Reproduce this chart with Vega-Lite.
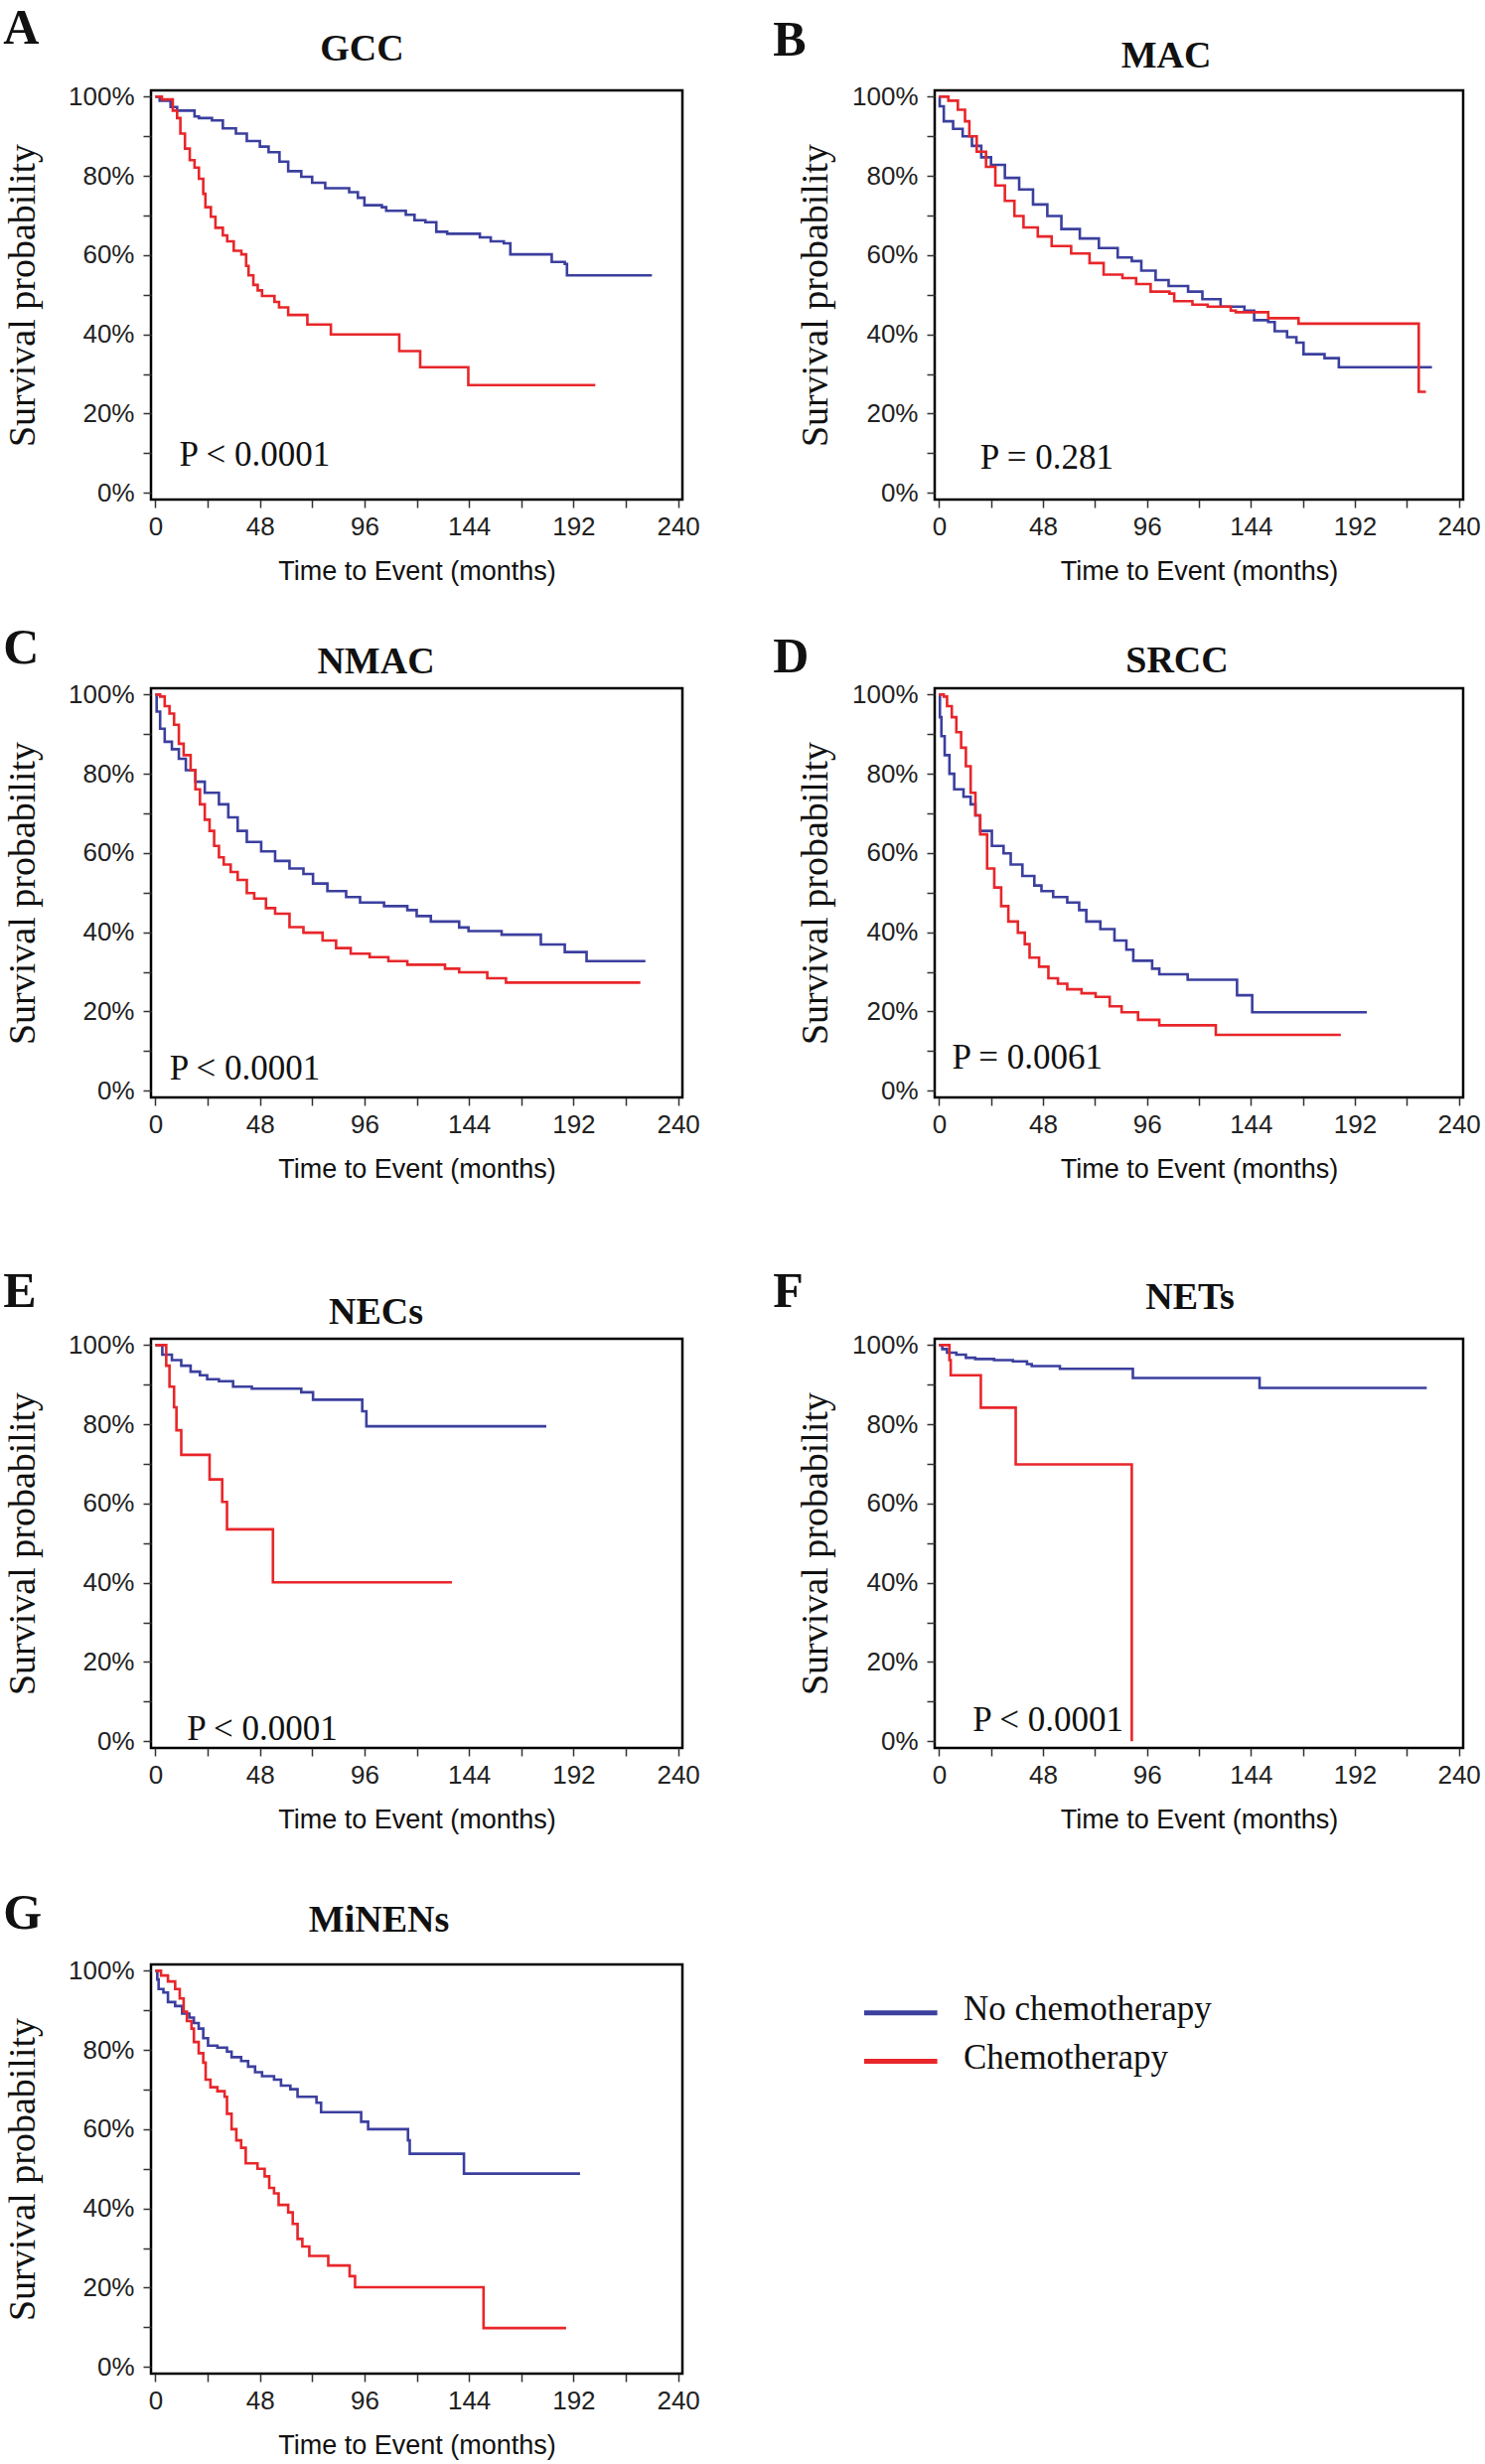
{
"$schema": "https://vega.github.io/schema/vega-lite/v6.json",
"background": "white",
"padding": {"left": 3, "top": 4, "right": 0, "bottom": 3},
"config": {
  "view": {"stroke": "#000", "strokeWidth": 2.5},
  "axis": {"domain": false, "grid": false, "tickSize": 8, "tickWidth": 1.5, "tickColor": "#333", "labelFont": "Liberation Sans", "labelFontSize": 26, "labelColor": "#222", "titleColor": "#111"},
  "axisX": {"labelPadding": 6, "titleFont": "Liberation Sans", "titleFontSize": 27, "titleFontWeight": "normal", "titlePadding": 19},
  "axisY": {"labelPadding": 9, "titleFont": "Liberation Serif", "titleFontSize": 38, "titleFontWeight": "normal", "titlePadding": 26},
  "title": {"font": "Liberation Serif", "fontSize": 38, "fontWeight": "bold", "color": "#111", "baseline": "alphabetic"}
},
"datasets": {
"pv": [
{"p":"A","label":"P < 0.0001","t":11,"s":0.095},
{"p":"B","label":"P = 0.281","t":19,"s":0.088},
{"p":"C","label":"P < 0.0001","t":6.5,"s":0.055},
{"p":"D","label":"P = 0.0061","t":6,"s":0.084},
{"p":"E","label":"P < 0.0001","t":14.5,"s":0.031},
{"p":"F","label":"P < 0.0001","t":15.6,"s":0.054}
],
"km": [
{"p":"A","g":"No chemotherapy","t":0,"s":1},{"p":"A","g":"No chemotherapy","t":2,"s":0.99},{"p":"A","g":"No chemotherapy","t":7,"s":0.974},{"p":"A","g":"No chemotherapy","t":10,"s":0.965},{"p":"A","g":"No chemotherapy","t":18,"s":0.95},{"p":"A","g":"No chemotherapy","t":20,"s":0.946},{"p":"A","g":"No chemotherapy","t":26,"s":0.94},{"p":"A","g":"No chemotherapy","t":31,"s":0.92},{"p":"A","g":"No chemotherapy","t":37,"s":0.907},{"p":"A","g":"No chemotherapy","t":42,"s":0.888},{"p":"A","g":"No chemotherapy","t":48,"s":0.874},{"p":"A","g":"No chemotherapy","t":52,"s":0.86},{"p":"A","g":"No chemotherapy","t":57,"s":0.836},{"p":"A","g":"No chemotherapy","t":61,"s":0.812},{"p":"A","g":"No chemotherapy","t":67,"s":0.798},{"p":"A","g":"No chemotherapy","t":72,"s":0.783},{"p":"A","g":"No chemotherapy","t":78,"s":0.769},{"p":"A","g":"No chemotherapy","t":89,"s":0.759},{"p":"A","g":"No chemotherapy","t":93,"s":0.745},{"p":"A","g":"No chemotherapy","t":96,"s":0.726},{"p":"A","g":"No chemotherapy","t":104,"s":0.721},{"p":"A","g":"No chemotherapy","t":106,"s":0.712},{"p":"A","g":"No chemotherapy","t":115,"s":0.702},{"p":"A","g":"No chemotherapy","t":119,"s":0.688},{"p":"A","g":"No chemotherapy","t":124,"s":0.683},{"p":"A","g":"No chemotherapy","t":129,"s":0.659},{"p":"A","g":"No chemotherapy","t":134,"s":0.654},{"p":"A","g":"No chemotherapy","t":149,"s":0.645},{"p":"A","g":"No chemotherapy","t":154,"s":0.635},{"p":"A","g":"No chemotherapy","t":160,"s":0.63},{"p":"A","g":"No chemotherapy","t":163,"s":0.602},{"p":"A","g":"No chemotherapy","t":182,"s":0.583},{"p":"A","g":"No chemotherapy","t":188,"s":0.578},{"p":"A","g":"No chemotherapy","t":189,"s":0.549},{"p":"A","g":"No chemotherapy","t":228,"s":0.549},
{"p":"A","g":"Chemotherapy","t":0,"s":1},{"p":"A","g":"Chemotherapy","t":3,"s":0.993},{"p":"A","g":"Chemotherapy","t":8,"s":0.965},{"p":"A","g":"Chemotherapy","t":10,"s":0.946},{"p":"A","g":"Chemotherapy","t":11.5,"s":0.907},{"p":"A","g":"Chemotherapy","t":13.6,"s":0.869},{"p":"A","g":"Chemotherapy","t":15.8,"s":0.84},{"p":"A","g":"Chemotherapy","t":18,"s":0.821},{"p":"A","g":"Chemotherapy","t":20,"s":0.793},{"p":"A","g":"Chemotherapy","t":22,"s":0.755},{"p":"A","g":"Chemotherapy","t":23,"s":0.721},{"p":"A","g":"Chemotherapy","t":25.5,"s":0.697},{"p":"A","g":"Chemotherapy","t":27.6,"s":0.669},{"p":"A","g":"Chemotherapy","t":31,"s":0.65},{"p":"A","g":"Chemotherapy","t":33,"s":0.635},{"p":"A","g":"Chemotherapy","t":36,"s":0.611},{"p":"A","g":"Chemotherapy","t":39.5,"s":0.602},{"p":"A","g":"Chemotherapy","t":41.7,"s":0.573},{"p":"A","g":"Chemotherapy","t":42.8,"s":0.549},{"p":"A","g":"Chemotherapy","t":45,"s":0.525},{"p":"A","g":"Chemotherapy","t":47,"s":0.511},{"p":"A","g":"Chemotherapy","t":49,"s":0.497},{"p":"A","g":"Chemotherapy","t":54.7,"s":0.482},{"p":"A","g":"Chemotherapy","t":56.8,"s":0.468},{"p":"A","g":"Chemotherapy","t":61,"s":0.449},{"p":"A","g":"Chemotherapy","t":69.8,"s":0.425},{"p":"A","g":"Chemotherapy","t":80.6,"s":0.4},{"p":"A","g":"Chemotherapy","t":112,"s":0.358},{"p":"A","g":"Chemotherapy","t":121.6,"s":0.317},{"p":"A","g":"Chemotherapy","t":143.7,"s":0.272},{"p":"A","g":"Chemotherapy","t":202,"s":0.272},
{"p":"B","g":"No chemotherapy","t":0,"s":1},{"p":"B","g":"No chemotherapy","t":0.3,"s":0.976},{"p":"B","g":"No chemotherapy","t":2.2,"s":0.938},{"p":"B","g":"No chemotherapy","t":6.5,"s":0.919},{"p":"B","g":"No chemotherapy","t":10.9,"s":0.9},{"p":"B","g":"No chemotherapy","t":15.2,"s":0.876},{"p":"B","g":"No chemotherapy","t":19.5,"s":0.847},{"p":"B","g":"No chemotherapy","t":24,"s":0.828},{"p":"B","g":"No chemotherapy","t":30.4,"s":0.795},{"p":"B","g":"No chemotherapy","t":37,"s":0.766},{"p":"B","g":"No chemotherapy","t":43.4,"s":0.728},{"p":"B","g":"No chemotherapy","t":50,"s":0.699},{"p":"B","g":"No chemotherapy","t":56.5,"s":0.666},{"p":"B","g":"No chemotherapy","t":65,"s":0.642},{"p":"B","g":"No chemotherapy","t":73.8,"s":0.618},{"p":"B","g":"No chemotherapy","t":82.5,"s":0.594},{"p":"B","g":"No chemotherapy","t":89,"s":0.585},{"p":"B","g":"No chemotherapy","t":93.4,"s":0.561},{"p":"B","g":"No chemotherapy","t":100,"s":0.537},{"p":"B","g":"No chemotherapy","t":106,"s":0.522},{"p":"B","g":"No chemotherapy","t":115,"s":0.508},{"p":"B","g":"No chemotherapy","t":121.6,"s":0.489},{"p":"B","g":"No chemotherapy","t":130,"s":0.47},{"p":"B","g":"No chemotherapy","t":141,"s":0.46},{"p":"B","g":"No chemotherapy","t":145.5,"s":0.436},{"p":"B","g":"No chemotherapy","t":152,"s":0.431},{"p":"B","g":"No chemotherapy","t":155,"s":0.408},{"p":"B","g":"No chemotherapy","t":160.7,"s":0.393},{"p":"B","g":"No chemotherapy","t":165,"s":0.379},{"p":"B","g":"No chemotherapy","t":168.3,"s":0.35},{"p":"B","g":"No chemotherapy","t":178,"s":0.34},{"p":"B","g":"No chemotherapy","t":184.6,"s":0.317},{"p":"B","g":"No chemotherapy","t":227.6,"s":0.317},
{"p":"B","g":"Chemotherapy","t":0,"s":1},{"p":"B","g":"Chemotherapy","t":4.3,"s":0.99},{"p":"B","g":"Chemotherapy","t":8.7,"s":0.967},{"p":"B","g":"Chemotherapy","t":12,"s":0.938},{"p":"B","g":"Chemotherapy","t":14,"s":0.9},{"p":"B","g":"Chemotherapy","t":17.4,"s":0.861},{"p":"B","g":"Chemotherapy","t":21.7,"s":0.823},{"p":"B","g":"Chemotherapy","t":26,"s":0.776},{"p":"B","g":"Chemotherapy","t":30.4,"s":0.737},{"p":"B","g":"Chemotherapy","t":34.8,"s":0.699},{"p":"B","g":"Chemotherapy","t":39,"s":0.67},{"p":"B","g":"Chemotherapy","t":45.6,"s":0.647},{"p":"B","g":"Chemotherapy","t":52,"s":0.623},{"p":"B","g":"Chemotherapy","t":61,"s":0.604},{"p":"B","g":"Chemotherapy","t":69.5,"s":0.58},{"p":"B","g":"Chemotherapy","t":76,"s":0.551},{"p":"B","g":"Chemotherapy","t":84.7,"s":0.542},{"p":"B","g":"Chemotherapy","t":91,"s":0.527},{"p":"B","g":"Chemotherapy","t":97.7,"s":0.508},{"p":"B","g":"Chemotherapy","t":106.4,"s":0.503},{"p":"B","g":"Chemotherapy","t":108.6,"s":0.484},{"p":"B","g":"Chemotherapy","t":117,"s":0.475},{"p":"B","g":"Chemotherapy","t":124,"s":0.47},{"p":"B","g":"Chemotherapy","t":134.7,"s":0.46},{"p":"B","g":"Chemotherapy","t":137,"s":0.456},{"p":"B","g":"Chemotherapy","t":152,"s":0.441},{"p":"B","g":"Chemotherapy","t":166,"s":0.427},{"p":"B","g":"Chemotherapy","t":221.5,"s":0.255},{"p":"B","g":"Chemotherapy","t":224.8,"s":0.255},
{"p":"C","g":"No chemotherapy","t":0,"s":1},{"p":"C","g":"No chemotherapy","t":0.6,"s":0.957},{"p":"C","g":"No chemotherapy","t":2.2,"s":0.914},{"p":"C","g":"No chemotherapy","t":4.3,"s":0.881},{"p":"C","g":"No chemotherapy","t":7.6,"s":0.862},{"p":"C","g":"No chemotherapy","t":10.8,"s":0.838},{"p":"C","g":"No chemotherapy","t":14,"s":0.809},{"p":"C","g":"No chemotherapy","t":18.4,"s":0.78},{"p":"C","g":"No chemotherapy","t":22.7,"s":0.752},{"p":"C","g":"No chemotherapy","t":29.2,"s":0.723},{"p":"C","g":"No chemotherapy","t":33.5,"s":0.69},{"p":"C","g":"No chemotherapy","t":37.8,"s":0.656},{"p":"C","g":"No chemotherapy","t":42,"s":0.628},{"p":"C","g":"No chemotherapy","t":48.6,"s":0.604},{"p":"C","g":"No chemotherapy","t":55,"s":0.58},{"p":"C","g":"No chemotherapy","t":61.6,"s":0.561},{"p":"C","g":"No chemotherapy","t":68,"s":0.547},{"p":"C","g":"No chemotherapy","t":72.4,"s":0.523},{"p":"C","g":"No chemotherapy","t":79,"s":0.504},{"p":"C","g":"No chemotherapy","t":87.6,"s":0.489},{"p":"C","g":"No chemotherapy","t":94,"s":0.475},{"p":"C","g":"No chemotherapy","t":105,"s":0.466},{"p":"C","g":"No chemotherapy","t":115.7,"s":0.456},{"p":"C","g":"No chemotherapy","t":120,"s":0.441},{"p":"C","g":"No chemotherapy","t":126.5,"s":0.427},{"p":"C","g":"No chemotherapy","t":139.5,"s":0.412},{"p":"C","g":"No chemotherapy","t":143.8,"s":0.403},{"p":"C","g":"No chemotherapy","t":159,"s":0.394},{"p":"C","g":"No chemotherapy","t":177,"s":0.369},{"p":"C","g":"No chemotherapy","t":188,"s":0.35},{"p":"C","g":"No chemotherapy","t":198,"s":0.327},{"p":"C","g":"No chemotherapy","t":225,"s":0.327},
{"p":"C","g":"Chemotherapy","t":0,"s":1},{"p":"C","g":"Chemotherapy","t":2.2,"s":0.995},{"p":"C","g":"Chemotherapy","t":4.3,"s":0.971},{"p":"C","g":"Chemotherapy","t":6.5,"s":0.952},{"p":"C","g":"Chemotherapy","t":8.6,"s":0.924},{"p":"C","g":"Chemotherapy","t":10.8,"s":0.876},{"p":"C","g":"Chemotherapy","t":13,"s":0.847},{"p":"C","g":"Chemotherapy","t":16.2,"s":0.809},{"p":"C","g":"Chemotherapy","t":18.4,"s":0.761},{"p":"C","g":"Chemotherapy","t":20.5,"s":0.723},{"p":"C","g":"Chemotherapy","t":22.7,"s":0.684},{"p":"C","g":"Chemotherapy","t":24.9,"s":0.656},{"p":"C","g":"Chemotherapy","t":27,"s":0.618},{"p":"C","g":"Chemotherapy","t":29.2,"s":0.589},{"p":"C","g":"Chemotherapy","t":31.4,"s":0.571},{"p":"C","g":"Chemotherapy","t":34.6,"s":0.552},{"p":"C","g":"Chemotherapy","t":37.8,"s":0.532},{"p":"C","g":"Chemotherapy","t":42,"s":0.499},{"p":"C","g":"Chemotherapy","t":45.4,"s":0.485},{"p":"C","g":"Chemotherapy","t":50.8,"s":0.461},{"p":"C","g":"Chemotherapy","t":55,"s":0.447},{"p":"C","g":"Chemotherapy","t":61.6,"s":0.413},{"p":"C","g":"Chemotherapy","t":68,"s":0.399},{"p":"C","g":"Chemotherapy","t":76.8,"s":0.379},{"p":"C","g":"Chemotherapy","t":83,"s":0.36},{"p":"C","g":"Chemotherapy","t":89.7,"s":0.346},{"p":"C","g":"Chemotherapy","t":98.4,"s":0.337},{"p":"C","g":"Chemotherapy","t":107,"s":0.327},{"p":"C","g":"Chemotherapy","t":115.7,"s":0.318},{"p":"C","g":"Chemotherapy","t":133,"s":0.308},{"p":"C","g":"Chemotherapy","t":139.5,"s":0.299},{"p":"C","g":"Chemotherapy","t":152.4,"s":0.284},{"p":"C","g":"Chemotherapy","t":161,"s":0.273},{"p":"C","g":"Chemotherapy","t":222.7,"s":0.273},
{"p":"D","g":"No chemotherapy","t":0,"s":1},{"p":"D","g":"No chemotherapy","t":0.4,"s":0.943},{"p":"D","g":"No chemotherapy","t":1.1,"s":0.895},{"p":"D","g":"No chemotherapy","t":2.6,"s":0.847},{"p":"D","g":"No chemotherapy","t":4.8,"s":0.8},{"p":"D","g":"No chemotherapy","t":7,"s":0.761},{"p":"D","g":"No chemotherapy","t":11.3,"s":0.742},{"p":"D","g":"No chemotherapy","t":14.6,"s":0.723},{"p":"D","g":"No chemotherapy","t":16.8,"s":0.695},{"p":"D","g":"No chemotherapy","t":19,"s":0.656},{"p":"D","g":"No chemotherapy","t":24.4,"s":0.618},{"p":"D","g":"No chemotherapy","t":29.8,"s":0.599},{"p":"D","g":"No chemotherapy","t":33.1,"s":0.571},{"p":"D","g":"No chemotherapy","t":38.5,"s":0.542},{"p":"D","g":"No chemotherapy","t":44,"s":0.518},{"p":"D","g":"No chemotherapy","t":47.3,"s":0.504},{"p":"D","g":"No chemotherapy","t":52.7,"s":0.489},{"p":"D","g":"No chemotherapy","t":59.2,"s":0.475},{"p":"D","g":"No chemotherapy","t":64.7,"s":0.456},{"p":"D","g":"No chemotherapy","t":68,"s":0.427},{"p":"D","g":"No chemotherapy","t":74.5,"s":0.408},{"p":"D","g":"No chemotherapy","t":81,"s":0.379},{"p":"D","g":"No chemotherapy","t":86.5,"s":0.356},{"p":"D","g":"No chemotherapy","t":89.7,"s":0.328},{"p":"D","g":"No chemotherapy","t":98.4,"s":0.308},{"p":"D","g":"No chemotherapy","t":101.7,"s":0.294},{"p":"D","g":"No chemotherapy","t":114.8,"s":0.28},{"p":"D","g":"No chemotherapy","t":137.6,"s":0.241},{"p":"D","g":"No chemotherapy","t":144.6,"s":0.198},{"p":"D","g":"No chemotherapy","t":197.5,"s":0.198},
{"p":"D","g":"Chemotherapy","t":0,"s":1},{"p":"D","g":"Chemotherapy","t":2.2,"s":0.995},{"p":"D","g":"Chemotherapy","t":3.7,"s":0.971},{"p":"D","g":"Chemotherapy","t":5.9,"s":0.943},{"p":"D","g":"Chemotherapy","t":8,"s":0.905},{"p":"D","g":"Chemotherapy","t":10.2,"s":0.866},{"p":"D","g":"Chemotherapy","t":12.4,"s":0.819},{"p":"D","g":"Chemotherapy","t":14.6,"s":0.752},{"p":"D","g":"Chemotherapy","t":16.8,"s":0.695},{"p":"D","g":"Chemotherapy","t":19,"s":0.647},{"p":"D","g":"Chemotherapy","t":22.2,"s":0.561},{"p":"D","g":"Chemotherapy","t":25.5,"s":0.513},{"p":"D","g":"Chemotherapy","t":28.7,"s":0.466},{"p":"D","g":"Chemotherapy","t":32,"s":0.427},{"p":"D","g":"Chemotherapy","t":36.4,"s":0.399},{"p":"D","g":"Chemotherapy","t":39.6,"s":0.37},{"p":"D","g":"Chemotherapy","t":41.8,"s":0.336},{"p":"D","g":"Chemotherapy","t":46.2,"s":0.313},{"p":"D","g":"Chemotherapy","t":50.5,"s":0.284},{"p":"D","g":"Chemotherapy","t":54.9,"s":0.27},{"p":"D","g":"Chemotherapy","t":59.2,"s":0.256},{"p":"D","g":"Chemotherapy","t":65.8,"s":0.246},{"p":"D","g":"Chemotherapy","t":72.3,"s":0.237},{"p":"D","g":"Chemotherapy","t":78.8,"s":0.213},{"p":"D","g":"Chemotherapy","t":84.3,"s":0.198},{"p":"D","g":"Chemotherapy","t":91.9,"s":0.179},{"p":"D","g":"Chemotherapy","t":101.7,"s":0.165},{"p":"D","g":"Chemotherapy","t":127.8,"s":0.141},{"p":"D","g":"Chemotherapy","t":185.5,"s":0.141},
{"p":"E","g":"No chemotherapy","t":0,"s":1},{"p":"E","g":"No chemotherapy","t":3.2,"s":0.976},{"p":"E","g":"No chemotherapy","t":7.6,"s":0.962},{"p":"E","g":"No chemotherapy","t":11.9,"s":0.948},{"p":"E","g":"No chemotherapy","t":16.2,"s":0.933},{"p":"E","g":"No chemotherapy","t":20.5,"s":0.924},{"p":"E","g":"No chemotherapy","t":23.8,"s":0.914},{"p":"E","g":"No chemotherapy","t":29.2,"s":0.909},{"p":"E","g":"No chemotherapy","t":35.7,"s":0.895},{"p":"E","g":"No chemotherapy","t":44.3,"s":0.89},{"p":"E","g":"No chemotherapy","t":67,"s":0.881},{"p":"E","g":"No chemotherapy","t":72.4,"s":0.862},{"p":"E","g":"No chemotherapy","t":95,"s":0.833},{"p":"E","g":"No chemotherapy","t":96.9,"s":0.795},{"p":"E","g":"No chemotherapy","t":179.5,"s":0.795},
{"p":"E","g":"Chemotherapy","t":0,"s":1},{"p":"E","g":"Chemotherapy","t":5,"s":0.948},{"p":"E","g":"Chemotherapy","t":6.5,"s":0.895},{"p":"E","g":"Chemotherapy","t":8.6,"s":0.843},{"p":"E","g":"Chemotherapy","t":9.7,"s":0.785},{"p":"E","g":"Chemotherapy","t":11.9,"s":0.723},{"p":"E","g":"Chemotherapy","t":24.9,"s":0.661},{"p":"E","g":"Chemotherapy","t":30.7,"s":0.604},{"p":"E","g":"Chemotherapy","t":32.9,"s":0.535},{"p":"E","g":"Chemotherapy","t":54,"s":0.401},{"p":"E","g":"Chemotherapy","t":136.2,"s":0.401},
{"p":"F","g":"No chemotherapy","t":0,"s":1},{"p":"F","g":"No chemotherapy","t":1.5,"s":0.99},{"p":"F","g":"No chemotherapy","t":3.7,"s":0.981},{"p":"F","g":"No chemotherapy","t":8,"s":0.976},{"p":"F","g":"No chemotherapy","t":12.4,"s":0.968},{"p":"F","g":"No chemotherapy","t":16.7,"s":0.965},{"p":"F","g":"No chemotherapy","t":25.4,"s":0.962},{"p":"F","g":"No chemotherapy","t":34.1,"s":0.959},{"p":"F","g":"No chemotherapy","t":40.6,"s":0.952},{"p":"F","g":"No chemotherapy","t":42.8,"s":0.947},{"p":"F","g":"No chemotherapy","t":55.8,"s":0.94},{"p":"F","g":"No chemotherapy","t":89.5,"s":0.917},{"p":"F","g":"No chemotherapy","t":148,"s":0.892},{"p":"F","g":"No chemotherapy","t":225.2,"s":0.892},
{"p":"F","g":"Chemotherapy","t":0,"s":1},{"p":"F","g":"Chemotherapy","t":4.8,"s":0.962},{"p":"F","g":"Chemotherapy","t":5.4,"s":0.924},{"p":"F","g":"Chemotherapy","t":19.3,"s":0.842},{"p":"F","g":"Chemotherapy","t":35.4,"s":0.699},{"p":"F","g":"Chemotherapy","t":89,"s":0},
{"p":"G","g":"No chemotherapy","t":0,"s":1},{"p":"G","g":"No chemotherapy","t":0.9,"s":0.978},{"p":"G","g":"No chemotherapy","t":1.5,"s":0.954},{"p":"G","g":"No chemotherapy","t":3.7,"s":0.945},{"p":"G","g":"No chemotherapy","t":5.8,"s":0.921},{"p":"G","g":"No chemotherapy","t":9.1,"s":0.911},{"p":"G","g":"No chemotherapy","t":12.3,"s":0.892},{"p":"G","g":"No chemotherapy","t":15.6,"s":0.882},{"p":"G","g":"No chemotherapy","t":17.7,"s":0.868},{"p":"G","g":"No chemotherapy","t":19.9,"s":0.854},{"p":"G","g":"No chemotherapy","t":22,"s":0.83},{"p":"G","g":"No chemotherapy","t":24.2,"s":0.811},{"p":"G","g":"No chemotherapy","t":28.5,"s":0.806},{"p":"G","g":"No chemotherapy","t":32.9,"s":0.796},{"p":"G","g":"No chemotherapy","t":35,"s":0.782},{"p":"G","g":"No chemotherapy","t":39.4,"s":0.772},{"p":"G","g":"No chemotherapy","t":42.6,"s":0.758},{"p":"G","g":"No chemotherapy","t":45.8,"s":0.744},{"p":"G","g":"No chemotherapy","t":49,"s":0.734},{"p":"G","g":"No chemotherapy","t":54.5,"s":0.725},{"p":"G","g":"No chemotherapy","t":57.7,"s":0.71},{"p":"G","g":"No chemotherapy","t":62,"s":0.701},{"p":"G","g":"No chemotherapy","t":65.3,"s":0.682},{"p":"G","g":"No chemotherapy","t":74,"s":0.667},{"p":"G","g":"No chemotherapy","t":76.1,"s":0.643},{"p":"G","g":"No chemotherapy","t":94.5,"s":0.619},{"p":"G","g":"No chemotherapy","t":97.7,"s":0.6},{"p":"G","g":"No chemotherapy","t":116,"s":0.572},{"p":"G","g":"No chemotherapy","t":116.8,"s":0.538},{"p":"G","g":"No chemotherapy","t":141.7,"s":0.488},{"p":"G","g":"No chemotherapy","t":195,"s":0.488},
{"p":"G","g":"Chemotherapy","t":0,"s":1},{"p":"G","g":"Chemotherapy","t":2.6,"s":0.988},{"p":"G","g":"Chemotherapy","t":5.8,"s":0.973},{"p":"G","g":"Chemotherapy","t":9.1,"s":0.954},{"p":"G","g":"Chemotherapy","t":11.2,"s":0.93},{"p":"G","g":"Chemotherapy","t":13,"s":0.897},{"p":"G","g":"Chemotherapy","t":14.5,"s":0.873},{"p":"G","g":"Chemotherapy","t":16.6,"s":0.854},{"p":"G","g":"Chemotherapy","t":17.7,"s":0.82},{"p":"G","g":"Chemotherapy","t":19.9,"s":0.792},{"p":"G","g":"Chemotherapy","t":22,"s":0.768},{"p":"G","g":"Chemotherapy","t":23.1,"s":0.725},{"p":"G","g":"Chemotherapy","t":25.3,"s":0.706},{"p":"G","g":"Chemotherapy","t":28.5,"s":0.696},{"p":"G","g":"Chemotherapy","t":31.8,"s":0.682},{"p":"G","g":"Chemotherapy","t":32.9,"s":0.639},{"p":"G","g":"Chemotherapy","t":35,"s":0.6},{"p":"G","g":"Chemotherapy","t":37.2,"s":0.572},{"p":"G","g":"Chemotherapy","t":39.4,"s":0.553},{"p":"G","g":"Chemotherapy","t":41.5,"s":0.514},{"p":"G","g":"Chemotherapy","t":46.9,"s":0.5},{"p":"G","g":"Chemotherapy","t":50.2,"s":0.481},{"p":"G","g":"Chemotherapy","t":52.3,"s":0.452},{"p":"G","g":"Chemotherapy","t":54.5,"s":0.438},{"p":"G","g":"Chemotherapy","t":56.6,"s":0.409},{"p":"G","g":"Chemotherapy","t":61,"s":0.39},{"p":"G","g":"Chemotherapy","t":63.1,"s":0.361},{"p":"G","g":"Chemotherapy","t":65.3,"s":0.323},{"p":"G","g":"Chemotherapy","t":67.5,"s":0.304},{"p":"G","g":"Chemotherapy","t":70.7,"s":0.28},{"p":"G","g":"Chemotherapy","t":79.4,"s":0.256},{"p":"G","g":"Chemotherapy","t":89.2,"s":0.229},{"p":"G","g":"Chemotherapy","t":91.7,"s":0.201},{"p":"G","g":"Chemotherapy","t":150.7,"s":0.098},{"p":"G","g":"Chemotherapy","t":188.6,"s":0.098}
]
},
"spacing": 84,
"vconcat": [
{"spacing": 38, "vconcat": [
 {"spacing": 72, "hconcat": [
  {"title": {"text": "A", "anchor": "start", "fontSize": 50, "offset": -24}, "vconcat": [
   {"width": 535, "height": 412, "title": {"text": "GCC", "offset": 15, "dx": -55, "frame": "group"},
    "layer": [
     {"data": {"name": "km"}, "transform": [{"filter": "datum.p === 'A'"}], "mark": {"type": "line", "interpolate": "step-after", "strokeWidth": 2.6},
      "encoding": {
       "x": {"field": "t", "type": "quantitative", "title": "Time to Event (months)", "scale": {"domain": [-2, 242], "nice": false, "zero": false}, "axis": {"values": [0,24,48,72,96,120,144,168,192,216,240], "labelExpr": "datum.value % 48 === 0 ? datum.label : ''", "labelFlush": false, "labelOverlap": false}},
       "y": {"field": "s", "type": "quantitative", "title": "Survival probability", "scale": {"domain": [-0.017, 1.016], "nice": false, "zero": false}, "axis": {"values": [0,0.1,0.2,0.3,0.4,0.5,0.6,0.7,0.8,0.9,1], "labelExpr": "round(datum.value*10) % 2 === 0 ? format(datum.value, '.0%') : ''", "labelFlush": false, "labelOverlap": false}},
       "color": {"field": "g", "type": "nominal", "scale": {"domain": ["No chemotherapy", "Chemotherapy"], "range": ["#3b3f9e", "#e8262a"]}, "legend": null}}},
     {"data": {"name": "pv"}, "transform": [{"filter": "datum.p === 'A'"}], "mark": {"type": "text", "align": "left", "baseline": "middle", "font": "Liberation Serif", "fontSize": 35, "color": "#111"},
      "encoding": {"x": {"field": "t", "type": "quantitative", "title": "Time to Event (months)"}, "y": {"field": "s", "type": "quantitative", "title": "Survival probability"}, "text": {"field": "label"}}}
    ]}
  ]},
  {"title": {"text": "B", "anchor": "start", "fontSize": 50, "offset": -29, "dx": -23}, "vconcat": [
   {"width": 532, "height": 412, "title": {"text": "MAC", "offset": 8, "dx": -33, "frame": "group"},
    "layer": [
     {"data": {"name": "km"}, "transform": [{"filter": "datum.p === 'B'"}], "mark": {"type": "line", "interpolate": "step-after", "strokeWidth": 2.6},
      "encoding": {
       "x": {"field": "t", "type": "quantitative", "title": "Time to Event (months)", "scale": {"domain": [-2, 242], "nice": false, "zero": false}, "axis": {"values": [0,24,48,72,96,120,144,168,192,216,240], "labelExpr": "datum.value % 48 === 0 ? datum.label : ''", "labelFlush": false, "labelOverlap": false}},
       "y": {"field": "s", "type": "quantitative", "title": "Survival probability", "scale": {"domain": [-0.017, 1.016], "nice": false, "zero": false}, "axis": {"values": [0,0.1,0.2,0.3,0.4,0.5,0.6,0.7,0.8,0.9,1], "labelExpr": "round(datum.value*10) % 2 === 0 ? format(datum.value, '.0%') : ''", "labelFlush": false, "labelOverlap": false, "titlePadding": 17}},
       "color": {"field": "g", "type": "nominal", "scale": {"domain": ["No chemotherapy", "Chemotherapy"], "range": ["#3b3f9e", "#e8262a"]}, "legend": null}}},
     {"data": {"name": "pv"}, "transform": [{"filter": "datum.p === 'B'"}], "mark": {"type": "text", "align": "left", "baseline": "middle", "font": "Liberation Serif", "fontSize": 35, "color": "#111"},
      "encoding": {"x": {"field": "t", "type": "quantitative", "title": "Time to Event (months)"}, "y": {"field": "s", "type": "quantitative", "title": "Survival probability"}, "text": {"field": "label"}}}
    ]}
  ]}
 ]},
 {"spacing": 72, "hconcat": [
  {"title": {"text": "C", "anchor": "start", "fontSize": 50, "offset": -31}, "vconcat": [
   {"width": 535, "height": 412, "title": {"text": "NMAC", "offset": 0, "dx": -41, "frame": "group"},
    "layer": [
     {"data": {"name": "km"}, "transform": [{"filter": "datum.p === 'C'"}], "mark": {"type": "line", "interpolate": "step-after", "strokeWidth": 2.6},
      "encoding": {
       "x": {"field": "t", "type": "quantitative", "title": "Time to Event (months)", "scale": {"domain": [-2, 242], "nice": false, "zero": false}, "axis": {"values": [0,24,48,72,96,120,144,168,192,216,240], "labelExpr": "datum.value % 48 === 0 ? datum.label : ''", "labelFlush": false, "labelOverlap": false}},
       "y": {"field": "s", "type": "quantitative", "title": "Survival probability", "scale": {"domain": [-0.017, 1.016], "nice": false, "zero": false}, "axis": {"values": [0,0.1,0.2,0.3,0.4,0.5,0.6,0.7,0.8,0.9,1], "labelExpr": "round(datum.value*10) % 2 === 0 ? format(datum.value, '.0%') : ''", "labelFlush": false, "labelOverlap": false}},
       "color": {"field": "g", "type": "nominal", "scale": {"domain": ["No chemotherapy", "Chemotherapy"], "range": ["#3b3f9e", "#e8262a"]}, "legend": null}}},
     {"data": {"name": "pv"}, "transform": [{"filter": "datum.p === 'C'"}], "mark": {"type": "text", "align": "left", "baseline": "middle", "font": "Liberation Serif", "fontSize": 35, "color": "#111"},
      "encoding": {"x": {"field": "t", "type": "quantitative", "title": "Time to Event (months)"}, "y": {"field": "s", "type": "quantitative", "title": "Survival probability"}, "text": {"field": "label"}}}
    ]}
  ]},
  {"title": {"text": "D", "anchor": "start", "fontSize": 50, "offset": -41, "dx": -23}, "vconcat": [
   {"width": 532, "height": 412, "title": {"text": "SRCC", "offset": 1, "dx": -22, "frame": "group"},
    "layer": [
     {"data": {"name": "km"}, "transform": [{"filter": "datum.p === 'D'"}], "mark": {"type": "line", "interpolate": "step-after", "strokeWidth": 2.6},
      "encoding": {
       "x": {"field": "t", "type": "quantitative", "title": "Time to Event (months)", "scale": {"domain": [-2, 242], "nice": false, "zero": false}, "axis": {"values": [0,24,48,72,96,120,144,168,192,216,240], "labelExpr": "datum.value % 48 === 0 ? datum.label : ''", "labelFlush": false, "labelOverlap": false}},
       "y": {"field": "s", "type": "quantitative", "title": "Survival probability", "scale": {"domain": [-0.017, 1.016], "nice": false, "zero": false}, "axis": {"values": [0,0.1,0.2,0.3,0.4,0.5,0.6,0.7,0.8,0.9,1], "labelExpr": "round(datum.value*10) % 2 === 0 ? format(datum.value, '.0%') : ''", "labelFlush": false, "labelOverlap": false, "titlePadding": 17}},
       "color": {"field": "g", "type": "nominal", "scale": {"domain": ["No chemotherapy", "Chemotherapy"], "range": ["#3b3f9e", "#e8262a"]}, "legend": null}}},
     {"data": {"name": "pv"}, "transform": [{"filter": "datum.p === 'D'"}], "mark": {"type": "text", "align": "left", "baseline": "middle", "font": "Liberation Serif", "fontSize": 35, "color": "#111"},
      "encoding": {"x": {"field": "t", "type": "quantitative", "title": "Time to Event (months)"}, "y": {"field": "s", "type": "quantitative", "title": "Survival probability"}, "text": {"field": "label"}}}
    ]}
  ]}
 ]}
]},
{"spacing": 55, "vconcat": [
 {"spacing": 72, "hconcat": [
  {"title": {"text": "E", "anchor": "start", "fontSize": 50, "offset": -24}, "vconcat": [
   {"width": 535, "height": 412, "title": {"text": "NECs", "offset": 0, "dx": -41, "frame": "group"},
    "layer": [
     {"data": {"name": "km"}, "transform": [{"filter": "datum.p === 'E'"}], "mark": {"type": "line", "interpolate": "step-after", "strokeWidth": 2.6},
      "encoding": {
       "x": {"field": "t", "type": "quantitative", "title": "Time to Event (months)", "scale": {"domain": [-2, 242], "nice": false, "zero": false}, "axis": {"values": [0,24,48,72,96,120,144,168,192,216,240], "labelExpr": "datum.value % 48 === 0 ? datum.label : ''", "labelFlush": false, "labelOverlap": false}},
       "y": {"field": "s", "type": "quantitative", "title": "Survival probability", "scale": {"domain": [-0.017, 1.016], "nice": false, "zero": false}, "axis": {"values": [0,0.1,0.2,0.3,0.4,0.5,0.6,0.7,0.8,0.9,1], "labelExpr": "round(datum.value*10) % 2 === 0 ? format(datum.value, '.0%') : ''", "labelFlush": false, "labelOverlap": false}},
       "color": {"field": "g", "type": "nominal", "scale": {"domain": ["No chemotherapy", "Chemotherapy"], "range": ["#3b3f9e", "#e8262a"]}, "legend": null}}},
     {"data": {"name": "pv"}, "transform": [{"filter": "datum.p === 'E'"}], "mark": {"type": "text", "align": "left", "baseline": "middle", "font": "Liberation Serif", "fontSize": 35, "color": "#111"},
      "encoding": {"x": {"field": "t", "type": "quantitative", "title": "Time to Event (months)"}, "y": {"field": "s", "type": "quantitative", "title": "Survival probability"}, "text": {"field": "label"}}}
    ]}
  ]},
  {"title": {"text": "F", "anchor": "start", "fontSize": 50, "offset": -39, "dx": -23}, "vconcat": [
   {"width": 532, "height": 412, "title": {"text": "NETs", "offset": 15, "dx": -9, "frame": "group"},
    "layer": [
     {"data": {"name": "km"}, "transform": [{"filter": "datum.p === 'F'"}], "mark": {"type": "line", "interpolate": "step-after", "strokeWidth": 2.6},
      "encoding": {
       "x": {"field": "t", "type": "quantitative", "title": "Time to Event (months)", "scale": {"domain": [-2, 242], "nice": false, "zero": false}, "axis": {"values": [0,24,48,72,96,120,144,168,192,216,240], "labelExpr": "datum.value % 48 === 0 ? datum.label : ''", "labelFlush": false, "labelOverlap": false}},
       "y": {"field": "s", "type": "quantitative", "title": "Survival probability", "scale": {"domain": [-0.017, 1.016], "nice": false, "zero": false}, "axis": {"values": [0,0.1,0.2,0.3,0.4,0.5,0.6,0.7,0.8,0.9,1], "labelExpr": "round(datum.value*10) % 2 === 0 ? format(datum.value, '.0%') : ''", "labelFlush": false, "labelOverlap": false, "titlePadding": 17}},
       "color": {"field": "g", "type": "nominal", "scale": {"domain": ["No chemotherapy", "Chemotherapy"], "range": ["#3b3f9e", "#e8262a"]}, "legend": null}}},
     {"data": {"name": "pv"}, "transform": [{"filter": "datum.p === 'F'"}], "mark": {"type": "text", "align": "left", "baseline": "middle", "font": "Liberation Serif", "fontSize": 35, "color": "#111"},
      "encoding": {"x": {"field": "t", "type": "quantitative", "title": "Time to Event (months)"}, "y": {"field": "s", "type": "quantitative", "title": "Survival probability"}, "text": {"field": "label"}}}
    ]}
  ]}
 ]},
 {"spacing": 72, "hconcat": [
  {"title": {"text": "G", "anchor": "start", "fontSize": 50, "offset": -38}, "vconcat": [
   {"width": 535, "height": 412, "title": {"text": "MiNENs", "offset": 18, "dx": -38, "frame": "group"},
    "layer": [
     {"data": {"name": "km"}, "transform": [{"filter": "datum.p === 'G'"}], "mark": {"type": "line", "interpolate": "step-after", "strokeWidth": 2.6},
      "encoding": {
       "x": {"field": "t", "type": "quantitative", "title": "Time to Event (months)", "scale": {"domain": [-2, 242], "nice": false, "zero": false}, "axis": {"values": [0,24,48,72,96,120,144,168,192,216,240], "labelExpr": "datum.value % 48 === 0 ? datum.label : ''", "labelFlush": false, "labelOverlap": false}},
       "y": {"field": "s", "type": "quantitative", "title": "Survival probability", "scale": {"domain": [-0.017, 1.016], "nice": false, "zero": false}, "axis": {"values": [0,0.1,0.2,0.3,0.4,0.5,0.6,0.7,0.8,0.9,1], "labelExpr": "round(datum.value*10) % 2 === 0 ? format(datum.value, '.0%') : ''", "labelFlush": false, "labelOverlap": false}},
       "color": {"field": "g", "type": "nominal", "scale": {"domain": ["No chemotherapy", "Chemotherapy"], "range": ["#3b3f9e", "#e8262a"]}, "legend": null}}}
    ]}
  ]},
  {"width": 400, "height": {"step": 46}, "view": {"stroke": null},
   "data": {"values": [{"g": "No chemotherapy"}, {"g": "Chemotherapy"}]},
   "encoding": {"y": {"field": "g", "type": "nominal", "scale": {"type": "point", "domain": ["No chemotherapy", "Chemotherapy"], "padding": 1.09}, "axis": null}},
   "layer": [
    {"mark": {"type": "rule", "strokeWidth": 5},
     "encoding": {"x": {"datum": 0, "type": "quantitative", "scale": {"domain": [-1.15, 3.85], "nice": false, "zero": false}, "axis": null}, "x2": {"datum": 0.92},
      "color": {"field": "g", "type": "nominal", "scale": {"domain": ["No chemotherapy", "Chemotherapy"], "range": ["#3b3f9e", "#e8262a"]}, "legend": null}}},
    {"mark": {"type": "text", "align": "left", "baseline": "middle", "dy": -4, "font": "Liberation Serif", "fontSize": 35, "color": "#111"},
     "encoding": {"x": {"datum": 1.25, "type": "quantitative"}, "text": {"field": "g"}}}
   ]}
 ]}
]}
]
}
